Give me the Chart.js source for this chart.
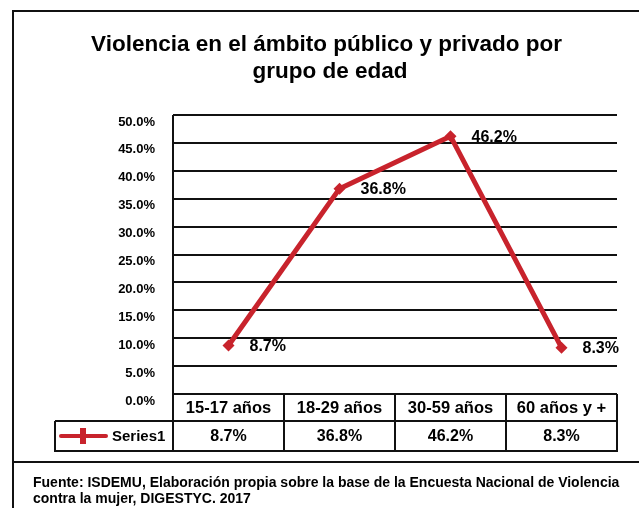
<!DOCTYPE html>
<html>
<head>
<meta charset="utf-8">
<script src="https://cdn.jsdelivr.net/npm/chart.js@4"></script>
<style>
  html, body { margin: 0; padding: 0; background: #fff; }
  #c { display: block; }
</style>
</head>
<body>
<canvas id="c" width="639" height="508"></canvas>
<script>
// ---- data ----
const titleLines = ['Violencia en el ámbito público y privado por', 'grupo de edad'];
const categories = ['15-17 años', '18-29 años', '30-59 años', '60 años y +'];
const seriesName = 'Series1';
const values = [8.7, 36.8, 46.2, 8.3];
const yTicks = [0, 5, 10, 15, 20, 25, 30, 35, 40, 45, 50];
const footerLines = [
  'Fuente: ISDEMU, Elaboración propia sobre la base de la Encuesta Nacional de Violencia',
  'contra la mujer, DIGESTYC. 2017'
];

const RED = '#C8232C';
const FONT = '"Liberation Sans", Arial, sans-serif';
const fmt = v => v.toFixed(1) + '%';

const decor = {
  id: 'decor',
  beforeDraw(chart) {
    const ctx = chart.ctx;
    ctx.save();
    ctx.fillStyle = '#fff';
    ctx.fillRect(0, 0, chart.width, chart.height);
    ctx.restore();
  },
  afterDraw(chart) {
    const ctx = chart.ctx;
    const xs = chart.scales.x;
    const ys = chart.scales.y;
    const ca = chart.chartArea;
    const n = categories.length;
    const colW = (ca.right - ca.left) / n;
    const rowTop = ys.getPixelForValue(0);
    const row1 = rowTop + 27;
    const row2 = row1 + 30;
    const legLeft = 55;
    ctx.save();
    // outer frame
    ctx.strokeStyle = '#111';
    ctx.lineWidth = 2;
    ctx.beginPath();
    ctx.moveTo(13, chart.height);
    ctx.lineTo(13, 11);
    ctx.lineTo(chart.width, 11);
    ctx.moveTo(13, 462);
    ctx.lineTo(chart.width, 462);
    ctx.stroke();

    // title
    ctx.fillStyle = '#000';
    ctx.font = 'bold 22.5px ' + FONT;
    ctx.textAlign = 'center';
    ctx.textBaseline = 'alphabetic';
    ctx.fillText(titleLines[0], 326.5, 51);
    ctx.fillText(titleLines[1], 330, 78);

    // table lines
    ctx.strokeStyle = '#111';
    ctx.lineWidth = 2;
    ctx.beginPath();
    ctx.moveTo(ca.left, ca.top); ctx.lineTo(ca.left, row2);
    ctx.moveTo(ca.left, rowTop); ctx.lineTo(ca.right, rowTop);
    ctx.moveTo(legLeft, row1); ctx.lineTo(ca.right, row1);
    ctx.moveTo(legLeft - 1, row2); ctx.lineTo(ca.right + 1, row2);
    ctx.moveTo(legLeft, row1); ctx.lineTo(legLeft, row2);
    for (let i = 0; i < n; i++) {
      const xr = xs.getPixelForValue(i) + colW / 2;
      ctx.moveTo(Math.round(xr), rowTop); ctx.lineTo(Math.round(xr), row2);
    }
    ctx.stroke();

    // category labels & values
    ctx.textAlign = 'center';
    ctx.textBaseline = 'middle';
    for (let i = 0; i < n; i++) {
      const cx = xs.getPixelForValue(i);
      ctx.font = 'bold 16.5px ' + FONT;
      ctx.fillText(categories[i], cx, (rowTop + row1) / 2 + 1);
      ctx.font = 'bold 16px ' + FONT;
      ctx.fillText(fmt(values[i]), cx, (row1 + row2) / 2 + 1);
    }

    // legend key
    const ly = (row1 + row2) / 2;
    ctx.strokeStyle = RED;
    ctx.lineWidth = 4;
    ctx.lineCap = 'round';
    ctx.beginPath();
    ctx.moveTo(61, ly); ctx.lineTo(106, ly);
    ctx.stroke();
    ctx.fillStyle = RED;
    ctx.fillRect(80, ly - 8, 6, 16);
    ctx.fillStyle = '#000';
    ctx.font = 'bold 15px ' + FONT;
    ctx.textAlign = 'left';
    ctx.fillText(seriesName, 112, ly + 1);

    // footer
    ctx.font = 'bold 14px ' + FONT;
    ctx.textBaseline = 'alphabetic';
    ctx.fillText(footerLines[0], 33, 487);
    ctx.fillText(footerLines[1], 33, 503);
    ctx.restore();
  },
  afterDatasetsDraw(chart) {
    const ctx = chart.ctx;
    const meta = chart.getDatasetMeta(0);
    ctx.save();
    ctx.fillStyle = '#000';
    ctx.font = 'bold 16px ' + FONT;
    ctx.textAlign = 'left';
    ctx.textBaseline = 'middle';
    meta.data.forEach((pt, i) => {
      ctx.fillText(fmt(values[i]), pt.x + 21, pt.y + 1);
    });
    ctx.restore();
  }
};

new Chart(document.getElementById('c'), {
  type: 'line',
  data: {
    labels: categories,
    datasets: [{
      label: seriesName,
      data: values,
      borderColor: RED,
      backgroundColor: RED,
      borderWidth: 5,
      pointStyle: 'rectRot',
      pointRadius: 6,
      pointHoverRadius: 6,
      pointBorderWidth: 0,
      pointBackgroundColor: RED,
      tension: 0
    }]
  },
  options: {
    responsive: false,
    animation: false,
    events: [],
    layout: { padding: { top: 115, bottom: 114, right: 22, left: 0 } },
    plugins: {
      legend: { display: false },
      title: { display: false },
      tooltip: { enabled: false }
    },
    scales: {
      x: {
        type: 'category',
        offset: true,
        display: false
      },
      y: {
        min: 0,
        max: 50,
        afterFit(scale) { scale.width = 173; },
        afterBuildTicks(scale) { scale.ticks = yTicks.map(v => ({ value: v })); },
        border: { display: false },
        grid: { color: '#111', lineWidth: 2, drawTicks: false },
        ticks: {
          padding: 18,
          labelOffset: 7,
          color: '#000',
          font: { family: FONT, size: 13, weight: 'bold' },
          callback: v => fmt(v)
        }
      }
    }
  },
  plugins: [decor]
});
</script>
</body>
</html>
